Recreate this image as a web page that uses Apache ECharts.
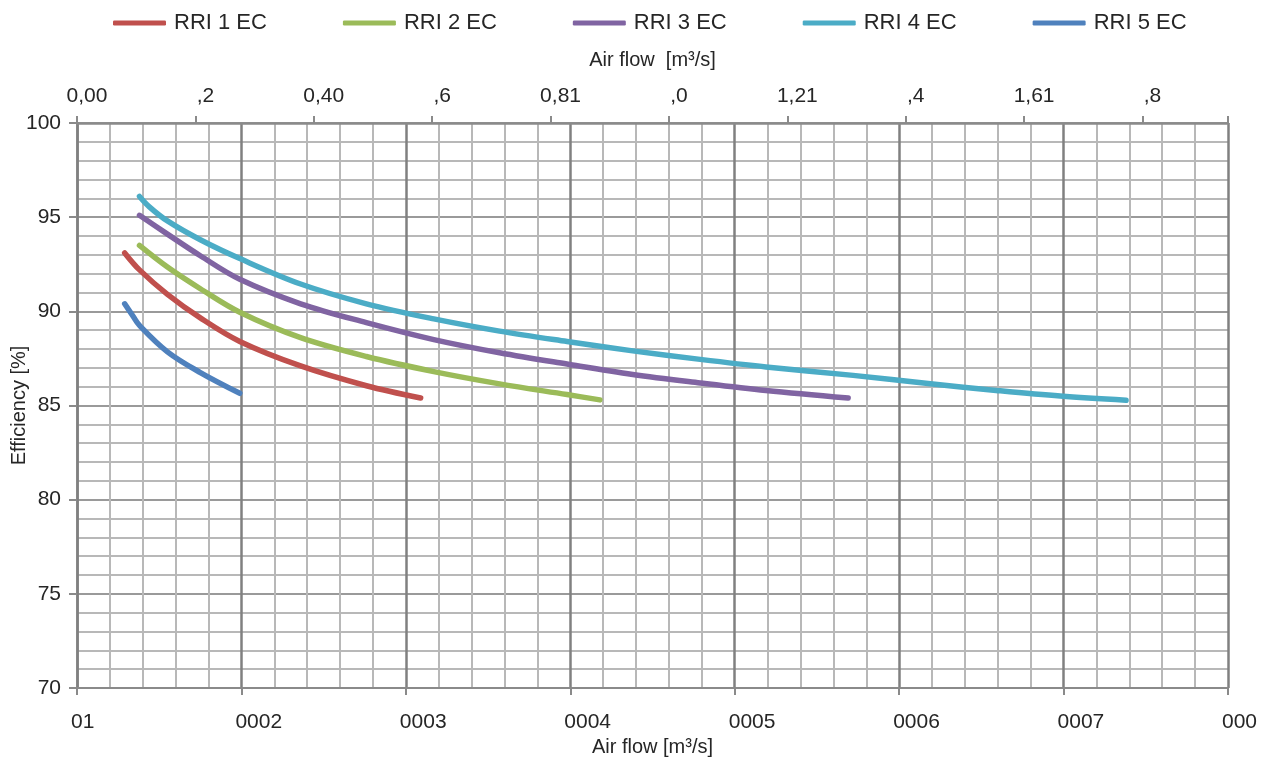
<!DOCTYPE html>
<html>
<head>
<meta charset="utf-8">
<script src="https://cdn.jsdelivr.net/npm/echarts@6/dist/echarts.min.js"></script>
<style>
html,body{margin:0;padding:0;background:#fff;}
#chart{width:1264px;height:760px;}
</style>
</head>
<body>
<div id="chart"></div>
<script>
// Bottom axis (m³/h scale positions), top axis labels
const bottomLabels = ["01","0002","0003","0004","0005","0006","0007","000"];
const topLabels = ["0,00",",2","0,40",",6","0,81",",0","1,21",",4","1,61",",8"];
const seriesNames = ["RRI 1 EC","RRI 2 EC","RRI 3 EC","RRI 4 EC","RRI 5 EC"];

const rri1X = [1290, 1380, 1550, 1750, 1990, 2360, 2760, 3090];
const rri1Y = [93.1, 92.2, 90.9, 89.65, 88.4, 87.1, 86.05, 85.4];

const rri2X = [1380, 1550, 1750, 1990, 2360, 2760, 3170, 3570, 3980, 4180];
const rri2Y = [93.5, 92.35, 91.2, 89.95, 88.6, 87.6, 86.8, 86.15, 85.58, 85.3];

const rri3X = [1380, 1550, 1750, 1990, 2360, 2760, 3170, 3570, 3980, 4380, 4790, 5190, 5690];
const rri3Y = [95.1, 94.1, 92.95, 91.7, 90.4, 89.4, 88.5, 87.8, 87.2, 86.65, 86.2, 85.8, 85.4];

const rri4X = [1380, 1440, 1550, 1750, 1990, 2360, 2760, 3170, 3570, 3980, 4380, 4790, 5190, 5720, 6190, 6590, 6980, 7380];
const rri4Y = [96.1, 95.55, 94.8, 93.8, 92.8, 91.45, 90.4, 89.6, 88.95, 88.4, 87.9, 87.45, 87.05, 86.6, 86.15, 85.8, 85.5, 85.28];

const rri5X = [1290, 1340, 1380, 1550, 1750, 1990];
const rri5Y = [90.4, 89.75, 89.25, 87.85, 86.75, 85.65];

const colors = ["#c0504d", "#9bbb59", "#8064a2", "#4bacc6", "#4f81bd"];
const xs = [rri1X, rri2X, rri3X, rri4X, rri5X];
const ys = [rri1Y, rri2Y, rri3Y, rri4Y, rri5Y];

const FONT = "'Liberation Sans', Arial, sans-serif";
const TXT = "#262626";

const chart = echarts.init(document.getElementById('chart'), null, {renderer: 'canvas'});

const series = seriesNames.map((name, i) => ({
  name: name,
  type: 'line',
  xAxisIndex: 0,
  yAxisIndex: 0,
  data: xs[i].map((x, j) => [x, ys[i][j]]),
  showSymbol: false,
  symbol: 'none',
  smooth: 0.35,
  color: colors[i],
  lineStyle: {width: 5.5, color: colors[i], cap: 'round', join: 'round'},
  z: 10
}));

chart.setOption({
  animation: false,
  backgroundColor: '#fff',
  textStyle: {fontFamily: FONT},
  legend: {
    top: 7,
    left: 108,
    icon: 'roundRect',
    itemWidth: 53,
    itemHeight: 5,
    itemGap: 76,
    textStyle: {fontSize: 22, color: TXT, fontFamily: FONT, padding: [0, 0, 0, 3]},
    data: seriesNames
  },
  grid: {left: 77, right: 36, top: 123, bottom: 72, containLabel: false, outerBoundsMode: 'none'},
  xAxis: [
    {
      type: 'value',
      position: 'bottom',
      min: 1000, max: 8000, interval: 1000,
      name: 'Air flow [m³/s]',
      nameLocation: 'middle',
      nameGap: 49,
      nameTextStyle: {fontSize: 20, color: TXT, fontFamily: FONT},
      axisLine: {show: true, onZero: false, lineStyle: {color: '#8a8a8a', width: 2}},
      axisTick: {show: true, length: 7, lineStyle: {color: '#8a8a8a', width: 2}},
      axisLabel: {
        fontSize: 21, color: TXT, fontFamily: FONT, margin: 24, align: 'left', padding: [0, 0, 0, -6],
        formatter: v => { const k = Math.round((v - 1000) / 1000); return bottomLabels[k] !== undefined ? bottomLabels[k] : ''; }
      },
      splitLine: {show: true, lineStyle: {color: '#808080', width: 2.5}},
      minorTick: {show: false, splitNumber: 5},
      minorSplitLine: {show: true, lineStyle: {color: '#b8b8b8', width: 2}}
    },
    {
      type: 'value',
      position: 'top',
      min: 0, max: 7 / 3.6, interval: 0.2,
      name: 'Air flow  [m³/s]',
      nameLocation: 'middle',
      nameGap: 53,
      nameTextStyle: {fontSize: 20, color: TXT, fontFamily: FONT},
      axisLine: {show: true, onZero: false, lineStyle: {color: '#8a8a8a', width: 2.5}},
      axisTick: {show: true, length: 7, lineStyle: {color: '#8a8a8a', width: 2}},
      axisLabel: {
        fontSize: 21, color: TXT, fontFamily: FONT, margin: 16, padding: [0, 0, 0, 20],
        formatter: v => { const k = Math.round(v / 0.2); return (Math.abs(v - k * 0.2) < 1e-6 && topLabels[k] !== undefined) ? topLabels[k] : ''; }
      },
      splitLine: {show: false}
    }
  ],
  yAxis: {
    type: 'value',
    min: 70, max: 100, interval: 5,
    name: 'Efficiency [%]',
    nameLocation: 'middle',
    nameGap: 48,
    nameMoveOverlap: false,
    nameRotate: 90,
    nameTextStyle: {fontSize: 20, color: TXT, fontFamily: FONT},
    axisLine: {show: true, lineStyle: {color: '#808080', width: 2.5}},
    axisTick: {show: true, length: 8, lineStyle: {color: '#8a8a8a', width: 2}},
    axisLabel: {fontSize: 21, color: TXT, fontFamily: FONT, margin: 16},
    splitLine: {show: true, lineStyle: {color: '#9a9a9a', width: 2}},
    minorTick: {show: false, splitNumber: 5},
    minorSplitLine: {show: true, lineStyle: {color: '#b8b8b8', width: 2}}
  },
  series: series
});
</script>
</body>
</html>
